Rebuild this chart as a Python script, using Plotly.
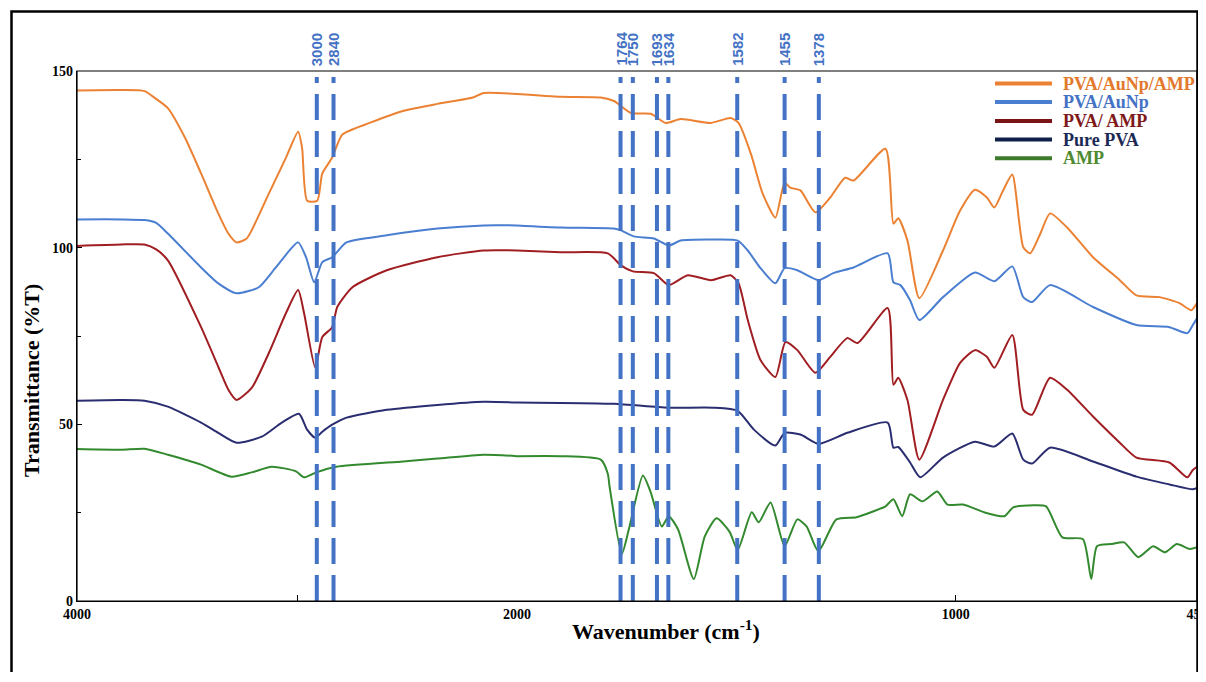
import plotly.graph_objects as go

# ---------------- data ----------------
orange_wn = [4000, 3800, 3693, 3647, 3587, 3509, 3436, 3358, 3312, 3275, 3230, 3206, 3128, 3050, 2995, 2977,
             2954, 2908, 2885, 2840, 2794, 2670, 2518, 2362, 2200, 2151, 2000, 1900, 1809, 1779, 1740, 1695,
             1661, 1627, 1558, 1513, 1495, 1467, 1440, 1411, 1390, 1377, 1354, 1320, 1286, 1252, 1233, 1160,
             1142, 1131, 1110, 1083, 1029, 990, 956, 929, 912, 892, 871, 846, 830, 807, 785, 746, 687, 626,
             588, 535, 490, 463, 450]
orange_t = [144.5, 144.6, 144.3, 142.4, 139.5, 131.1, 121, 109.7, 104, 101.5, 102.5, 104.9, 115.3, 125.5, 132.8, 128.3,
            113.3, 113.3, 121, 125.5, 132, 135.3, 138.7, 140.7, 142.5, 143.8, 143.5, 142.7, 142.5, 141.5, 138.1, 137.9,
            135.3, 136.4, 135.3, 136.7, 135.3, 126.6, 115.3, 108.5, 118.4, 117, 116.2, 110, 114.2, 119.8, 119, 128,
            106.8, 108.3, 102, 85.7, 99.2, 110.5, 116.4, 114.2, 111.4, 116.2, 120.7, 100.1, 98.4, 104, 109.7, 105.7, 97.3, 90.8,
            86.5, 86, 84.3, 82.3, 84.3]

blue_wn = [4000, 3800, 3693, 3640, 3587, 3436, 3358, 3275, 3174, 3096, 2995, 2959, 2922, 2885, 2840, 2775, 2592,
           2362, 2151, 2000, 1900, 1779, 1763, 1734, 1688, 1654, 1627, 1552, 1497, 1474, 1445, 1411, 1390, 1361,
           1313, 1279, 1233, 1155, 1142, 1126, 1104, 1083, 1029, 956, 912, 871, 846, 826, 785, 687, 588, 513,
           472, 460, 450]
blue_t = [108, 108, 107.8, 107, 104, 94.4, 89.9, 87.1, 88.8, 94.4, 101.5, 97.3, 90.2, 95.9, 97.3, 101.5, 103.5,
          105.4, 106.3, 106.3, 105.7, 105.4, 104.9, 103.2, 102.6, 100.6, 102, 102.3, 102, 99.2, 94.2, 89.9, 94.2, 93.6,
          90.8, 92.8, 94.4, 98.4, 90.2, 89.4, 85.1, 79.5, 86, 93, 90.5, 94.7, 86, 84.6, 89.4, 83.2, 78.1, 77.5,
          75.8, 78, 80]

red_wn = [4000, 3800, 3693, 3640, 3587, 3436, 3358, 3312, 3275, 3206, 3128, 3050, 2995, 2968, 2917, 2885, 2840,
          2817, 2748, 2592, 2362, 2151, 2000, 1900, 1793, 1763, 1736, 1688, 1654, 1611, 1558, 1513, 1495, 1474,
          1445, 1411, 1388, 1361, 1320, 1286, 1247, 1224, 1155, 1142, 1131, 1110, 1083, 1029, 990, 956, 929, 912,
          871, 846, 826, 785, 746, 687, 626, 588, 513, 472, 460, 450]
red_t = [100.5, 100.9, 100.9, 99.5, 96.4, 77.5, 66.3, 59.8, 56.9, 60.3, 70.2, 81.5, 88, 81.5, 66, 74.7, 77.5,
         83.2, 88.8, 93.6, 97.3, 99.2, 99.2, 98.7, 98.4, 95, 93.3, 92.8, 89.4, 92.2, 90.8, 92.2, 89.9, 79.5,
         68.2, 63.4, 73.3, 71, 64.6, 69.1, 74.4, 73, 82.9, 61.2, 63.2, 56.9, 40, 56.9, 67.4, 71, 69.1, 66,
         75.3, 54.1, 52.7, 63.2, 59.8, 52.2, 44.8, 40.6, 39.2, 35, 37, 38]

navy_wn = [4000, 3800, 3693, 3587, 3436, 3358, 3275, 3160, 3069, 2991, 2954, 2917, 2885, 2840, 2775, 2592, 2362,
           2151, 2000, 1779, 1656, 1552, 1497, 1460, 1411, 1390, 1354, 1313, 1247, 1155, 1142, 1131, 1104, 1081,
           1029, 956, 912, 871, 846, 826, 785, 687, 588, 513, 460, 450]
navy_t = [56.7, 56.9, 56.7, 55, 50.5, 47.6, 44.8, 46.5, 50.5, 53, 48.5, 46.2, 47.9, 49.9, 51.9, 54.1, 55.5,
          56.4, 56.2, 55.8, 54.7, 54.7, 53.8, 48.5, 44, 47.6, 47.1, 44.5, 47.6, 50.5, 43.4, 43.6, 39.2, 35,
          40.6, 45.1, 43.7, 47.4, 40, 38.9, 43.4, 39.5, 35.2, 33, 31.6, 32]

green_wn = [4000, 3800, 3693, 3587, 3436, 3298, 3206, 3115, 3005, 2968, 2913, 2821, 2518, 2362, 2151, 2000, 1900,
            1809, 1793, 1789, 1761, 1745, 1713, 1695, 1670, 1654, 1633, 1597, 1572, 1545, 1515, 1497, 1465, 1449,
            1422, 1390, 1361, 1340, 1313, 1272, 1226, 1187, 1160, 1142, 1122, 1104, 1076, 1042, 1019, 983, 935,
            889, 869, 823, 794, 757, 710, 691, 678, 646, 616, 584, 550, 523, 496, 466, 450]
green_t = [43, 42.8, 43.1, 41.4, 38.6, 35.2, 36.4, 38, 36.7, 35, 36.4, 38, 39.5, 40.3, 41.4, 41, 41,
           40, 36, 32.4, 13.3, 20.3, 35.5, 30.7, 21.1, 24, 20.3, 6.2, 18.3, 23.4, 19.5, 14.4, 25.1, 22.3,
           27.9, 15.5, 23.1, 21.1, 14.1, 23.1, 23.7, 25.4, 26.8, 28.8, 24, 30.2, 28.2, 31, 27.3, 27.3, 25.1,
           24, 26.5, 27.1, 26.8, 18, 17.5, 6.2, 15.5, 16.1, 16.6, 12.4, 15.5, 13.8, 16.1, 14.7, 15.2]

series_names = ["PVA/AuNp/AMP", "PVA/AuNp", "PVA/ AMP", "Pure PVA", "AMP"]
series_wn = [orange_wn, blue_wn, red_wn, navy_wn, green_wn]
series_t = [orange_t, blue_t, red_t, navy_t, green_t]

peak_labels = ["3000", "2840", "1764", "1750", "1693", "1634", "1582", "1455", "1378"]
peak_positions = [2910, 2834, 1764, 1736, 1681, 1655, 1498, 1390, 1312]

x_ticks_high = [4000]
x_ticklabels_high = ["4000"]
x_minor_high = [3000]
x_ticks_low = [2000, 1000, 450]
x_ticklabels_low = ["2000", "1000", "450"]
y_ticks = [0, 50, 100, 150]
y_ticklabels = ["0", "50", "100", "150"]
y_minor = [25, 75, 125]

# ---------------- styles / geometry ----------------
line_colors = ["#EB8233", "#4A7ED0", "#A01E22", "#2A2D70", "#338A2E"]
legend_text_colors = ["#E2792C", "#4472C4", "#7E1A1A", "#1B2A55", "#4E8A30"]
legend_line_colors = ["#EB8233", "#4A7ED0", "#7A1416", "#0F1F48", "#3E7A2C"]
peak_color = "#4472C4"
SERIF = "Liberation Serif, Times New Roman, serif"
SANS = "Liberation Sans, Arial, sans-serif"
BREAK = 2000

# the page body has an 8px margin; the figure is sized so the plot lands where the reference has it
W, H = 1190, 664
ML, MR, MT, MB = 69, 1, 63, 71
PW = W - ML - MR          # 1120
PH = H - MT - MB          # 530
split = 440 / PW          # 4000..2000 drawn at half the scale of 2000..450


def px(xpage):
    return (xpage - 8 - ML) / PW


def py(ypage):
    return (H - MB + 8 - ypage) / PH


fig = go.Figure()

for name, wn, t, col in zip(series_names, series_wn, series_t, line_colors):
    hi = [(w, v) for w, v in zip(wn, t) if w >= BREAK]
    lo = [(w, v) for w, v in zip(wn, t) if w <= BREAK]
    fig.add_trace(go.Scatter(x=[p[0] for p in hi], y=[p[1] for p in hi], mode="lines",
                             line=dict(color=col, width=2, shape="spline", smoothing=0.6),
                             xaxis="x", yaxis="y", showlegend=False, name=name))
    fig.add_trace(go.Scatter(x=[p[0] for p in lo], y=[p[1] for p in lo], mode="lines",
                             line=dict(color=col, width=2, shape="spline", smoothing=0.6),
                             xaxis="x2", yaxis="y", showlegend=False, name=name))

shapes = []
annotations = []
for lab, pos in zip(peak_labels, peak_positions):
    xr = "x" if pos >= BREAK else "x2"
    shapes.append(dict(type="line", xref=xr, yref="paper", x0=pos, x1=pos, y0=0, y1=py(77),
                       line=dict(color=peak_color, width=4, dash="26px,11px")))
    annotations.append(dict(xref=xr, yref="paper", x=pos, y=1.0, yshift=3, text=f"<b>{lab}</b>",
                            textangle=-90, showarrow=False, xanchor="center", yanchor="bottom",
                            font=dict(family=SANS, size=15, color=peak_color)))

# legend (drawn by hand to get the reference's tight spacing and coloured labels)
legend_rows = [83.5, 102, 121, 139.5, 158.3]
for name, lc, tc, yrow in zip(series_names, legend_line_colors, legend_text_colors, legend_rows):
    shapes.append(dict(type="line", xref="paper", yref="paper", x0=px(995), x1=px(1052),
                       y0=py(yrow), y1=py(yrow), line=dict(color=lc, width=4)))
    annotations.append(dict(xref="paper", yref="paper", x=px(1061), y=py(yrow), text=f"<b>{name}</b>",
                            showarrow=False, xanchor="left", yanchor="middle",
                            font=dict(family=SERIF, size=18, color=tc)))

# plot frame and outer border
shapes.append(dict(type="rect", xref="paper", yref="paper", x0=0, x1=1, y0=0, y1=1,
                   line=dict(color="black", width=1.2), layer="above"))
shapes.append(dict(type="rect", xref="paper", yref="paper", x0=px(11.5), x1=px(1197.5),
                   y0=py(700), y1=py(11.5), line=dict(color="black", width=2.5)))

annotations.append(dict(xref="paper", yref="paper", x=px(666), y=py(630),
                        text="<b>Wavenumber (cm<sup>-1</sup>)</b>", showarrow=False,
                        xanchor="center", yanchor="middle", font=dict(family=SERIF, size=22, color="black")))
annotations.append(dict(xref="paper", yref="paper", x=px(31), y=py(381),
                        text="<b>Transmittance (%T)</b>", showarrow=False, textangle=-90,
                        xanchor="center", yanchor="middle", font=dict(family=SERIF, size=22, color="black")))

tickfont = dict(family=SERIF, size=14, color="black", weight="bold")
common = dict(showgrid=False, zeroline=False, showline=True, linecolor="black", linewidth=1.2,
              ticks="inside", tickcolor="black", tickfont=tickfont, ticklabeloverflow="allow")

fig.update_layout(
    width=W, height=H,
    margin=dict(l=ML, r=MR, t=MT, b=MB, autoexpand=False),
    paper_bgcolor="white", plot_bgcolor="white",
    showlegend=False,
    xaxis=dict(domain=[0, split], range=[4000, BREAK], ticklen=6, tickvals=x_ticks_high,
               ticktext=x_ticklabels_high, anchor="y",
               minor=dict(tickvals=x_minor_high, ticks="inside", ticklen=6, tickcolor="black"), **common),
    xaxis2=dict(domain=[split, 1], range=[BREAK, 450], ticklen=6, tickvals=x_ticks_low,
                ticktext=x_ticklabels_low, anchor="y", **common),
    yaxis=dict(domain=[0, 1], range=[0, 150], ticklen=5, tickvals=y_ticks, ticktext=y_ticklabels,
               anchor="x", minor=dict(tickvals=y_minor, ticks="inside", ticklen=4, tickcolor="black"),
               **common),
    shapes=shapes, annotations=annotations,
)

fig.write_html("out.html")
